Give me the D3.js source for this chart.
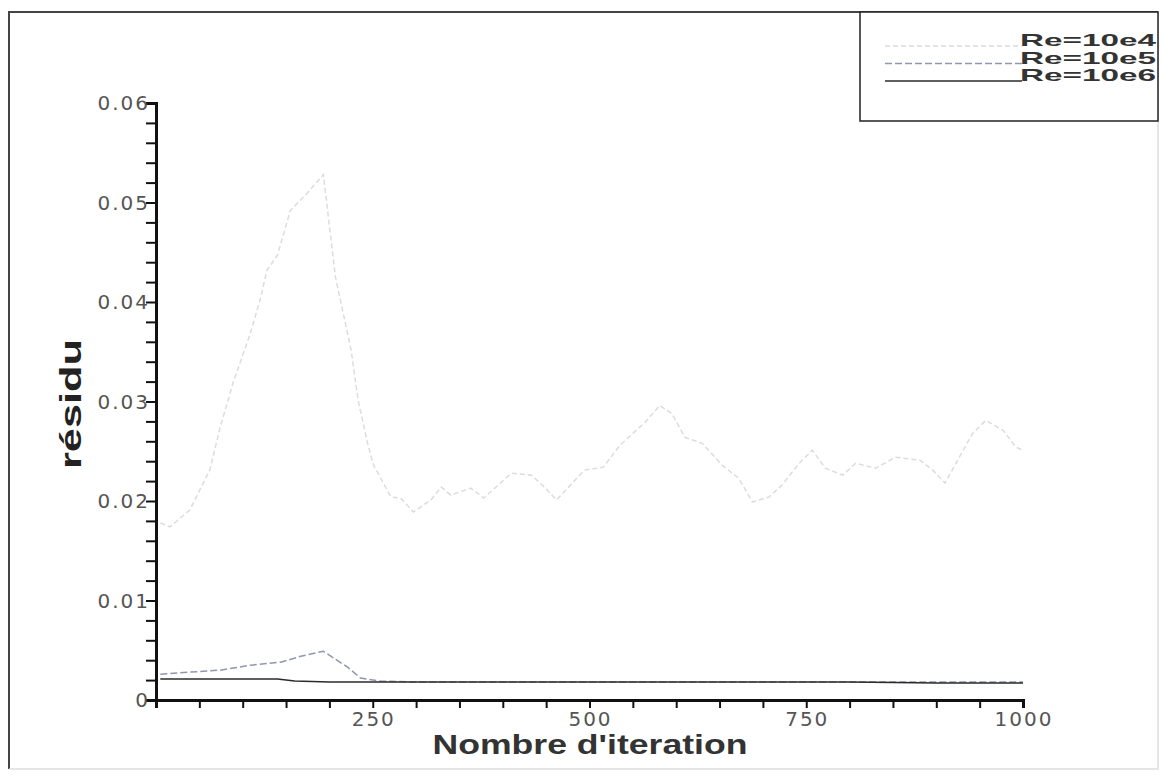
<!DOCTYPE html>
<html>
<head>
<meta charset="utf-8">
<script src="https://cdn.jsdelivr.net/npm/d3@7"></script>
<style>
  body { margin: 0; background: #fff; }
</style>
</head>
<body>
<div id="chart"></div>
<script>
// iterations / residuals
const iter4 = [5, 16, 39, 62, 74, 89, 109, 120, 128, 140, 155, 175, 193, 207, 225, 233, 244, 251, 271, 282, 297, 317, 329, 340, 363, 378, 410, 433, 448, 462, 494, 516, 535, 564, 581, 595, 610, 630, 653, 672, 688, 707, 722, 742, 757, 772, 792, 807, 830, 853, 881, 896, 910, 931, 942, 957, 977, 992, 1000];
const res4 = [0.0178, 0.0174, 0.0191, 0.0231, 0.0274, 0.0319, 0.0369, 0.0402, 0.0432, 0.0447, 0.0492, 0.0510, 0.0528, 0.0425, 0.0352, 0.0302, 0.0258, 0.0236, 0.0204, 0.0203, 0.0189, 0.0201, 0.0214, 0.0206, 0.0213, 0.0203, 0.0228, 0.0226, 0.0214, 0.0201, 0.0231, 0.0234, 0.0256, 0.0279, 0.0296, 0.0288, 0.0264, 0.0258, 0.0236, 0.0223, 0.0199, 0.0204, 0.0216, 0.0238, 0.0251, 0.0233, 0.0226, 0.0238, 0.0233, 0.0244, 0.0241, 0.0231, 0.0218, 0.0251, 0.0268, 0.0281, 0.0271, 0.0254, 0.0251];

const iter5 = [5, 39, 74, 109, 144, 167, 193, 221, 236, 259, 300, 400, 500, 600, 700, 800, 900, 1000];
const res5 = [0.0026, 0.0028, 0.0030, 0.0035, 0.0038, 0.0044, 0.0049, 0.0033, 0.0022, 0.0019, 0.0018, 0.0018, 0.0018, 0.0018, 0.0018, 0.0018, 0.0018, 0.0018];

const iter6 = [5, 50, 100, 140, 160, 200, 300, 400, 500, 600, 700, 800, 900, 1000];
const res6 = [0.0021, 0.0021, 0.0021, 0.0021, 0.0019, 0.0018, 0.0018, 0.0018, 0.0018, 0.0018, 0.0018, 0.0018, 0.0017, 0.0017];

const seriesNames = ["Re=10e4", "Re=10e5", "Re=10e6"];
const xTicks = [250, 500, 750, 1000];
const yTicks = [0, 0.01, 0.02, 0.03, 0.04, 0.05, 0.06];

const series = [
    { name: seriesNames[0], x: iter4, y: res4, color: "#dcdcdc", dash: "5,3" },
    { name: seriesNames[1], x: iter5, y: res5, color: "#9096ae", dash: "7,3" },
    { name: seriesNames[2], x: iter6, y: res6, color: "#2b2b2b", dash: null }
];

const svg = d3.select("#chart").append("svg")
    .attr("width", 1164)
    .attr("height", 780);

// outer frame of the scanned figure: dark top/left, faded right/bottom
svg.append("path")
    .attr("d", "M9,769 L9,12 L1158,12")
    .attr("fill", "none")
    .attr("stroke", "#444")
    .attr("stroke-width", 2);
svg.append("path")
    .attr("d", "M1158,12 L1158,769 L9,769")
    .attr("fill", "none")
    .attr("stroke", "#ddd")
    .attr("stroke-width", 1.5);

const x = d3.scaleLinear().domain([0, 1000]).range([156, 1023]);
const y = d3.scaleLinear().domain([0, 0.06]).range([700, 103]);

const line = d3.line()
    .x(d => x(d[0]))
    .y(d => y(d[1]));

series.forEach(s => {
    svg.append("path")
        .datum(d3.zip(s.x, s.y))
        .attr("fill", "none")
        .attr("stroke", s.color)
        .attr("stroke-width", 1.5)
        .attr("stroke-dasharray", s.dash)
        .attr("d", line);
});

// y axis
const yAxis = svg.append("g")
    .attr("transform", "translate(" + x(0) + ",0)")
    .call(d3.axisLeft(y).ticks(30).tickSize(10).tickFormat(""));
yAxis.select(".domain").attr("stroke", "#111").attr("stroke-width", 3);
yAxis.selectAll(".tick line").attr("stroke", "#111").attr("stroke-width", 2);

svg.append("g").selectAll("text")
    .data(yTicks)
    .join("text")
    .attr("x", 150)
    .attr("y", d => y(d) + 7)
    .attr("text-anchor", "end")
    .attr("font-family", "DejaVu Sans")
    .attr("font-size", 20)
    .attr("letter-spacing", 2)
    .attr("fill", "#555")
    .text(d => d === 0 ? "0" : d3.format(".2f")(d));

// x axis
const xAxis = svg.append("g")
    .attr("transform", "translate(0," + y(0) + ")")
    .call(d3.axisBottom(x).ticks(20).tickSize(8).tickFormat(""));
xAxis.select(".domain").attr("stroke", "#111").attr("stroke-width", 3);
xAxis.selectAll(".tick line").attr("stroke", "#111").attr("stroke-width", 2);
xAxis.selectAll(".tick").filter(d => d === 0).remove();

svg.append("g").selectAll("text")
    .data(xTicks)
    .join("text")
    .attr("x", d => x(d) + 1)
    .attr("y", 726)
    .attr("text-anchor", "middle")
    .attr("font-family", "DejaVu Sans")
    .attr("font-size", 20)
    .attr("letter-spacing", 2)
    .attr("fill", "#555")
    .text(d => d);

// axis titles
svg.append("text")
    .attr("x", 590)
    .attr("y", 754)
    .attr("text-anchor", "middle")
    .attr("font-family", "Liberation Sans, Arial, sans-serif")
    .attr("font-weight", "bold")
    .attr("font-size", 28)
    .attr("textLength", 315)
    .attr("lengthAdjust", "spacingAndGlyphs")
    .attr("fill", "#333")
    .text("Nombre d'iteration");

svg.append("text")
    .attr("transform", "translate(81,404) rotate(-90)")
    .attr("text-anchor", "middle")
    .attr("font-family", "Liberation Sans, Arial, sans-serif")
    .attr("font-weight", "bold")
    .attr("font-size", 30)
    .attr("textLength", 130)
    .attr("lengthAdjust", "spacingAndGlyphs")
    .attr("fill", "#222")
    .text("résidu");

// legend
svg.append("rect")
    .attr("x", 860).attr("y", 12)
    .attr("width", 298).attr("height", 109)
    .attr("fill", "#fff")
    .attr("stroke", "#222")
    .attr("stroke-width", 1.5);

const legend = svg.append("g").selectAll("g")
    .data(series)
    .join("g")
    .attr("transform", (d, i) => "translate(0," + (46 + i * 17.5) + ")");

legend.append("line")
    .attr("x1", 885).attr("x2", 1022)
    .attr("y1", 0).attr("y2", 0)
    .attr("stroke", d => d.color)
    .attr("stroke-width", 1.5)
    .attr("stroke-dasharray", d => d.dash);

legend.append("text")
    .attr("x", 1020)
    .attr("y", 0)
    .attr("font-family", "Liberation Sans, Arial, sans-serif")
    .attr("font-weight", "bold")
    .attr("font-size", 17)
    .attr("textLength", 136)
    .attr("lengthAdjust", "spacingAndGlyphs")
    .attr("fill", "#333")
    .text(d => d.name);
</script>
</body>
</html>
